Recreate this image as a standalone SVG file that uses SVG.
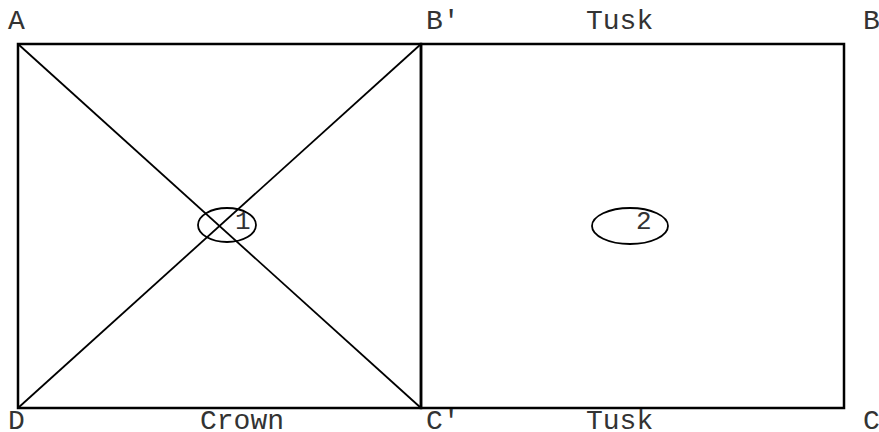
<svg xmlns="http://www.w3.org/2000/svg" width="879" height="432" viewBox="0 0 879 432">
<style>
.lbl{font-family:"Liberation Mono","Courier New",monospace;font-size:28px;fill:#333}
.num{font-family:"Liberation Mono","Courier New",monospace;font-size:26px;fill:#333}
.box{fill:none;stroke:#000;stroke-width:2.5}
.ln{fill:none;stroke:#000;stroke-width:1.8}
</style>
<rect width="879" height="432" fill="#fff"/>
<g id="connectors">
<line class="ln" x1="18" y1="44" x2="421" y2="408"/>
<line class="ln" x1="18" y1="408" x2="421" y2="44"/>
</g>
<g id="crown">
<rect class="box" x="18" y="44" width="403" height="364"/>
</g>
<g id="tusk">
<rect class="box" x="421" y="44" width="423" height="364"/>
</g>
<g id="node1">
<ellipse class="ln" cx="227" cy="225" rx="29" ry="17"/>
<text class="num" x="235" y="229">1</text>
</g>
<g id="node2">
<ellipse class="ln" cx="630" cy="226" rx="38" ry="18"/>
<text class="num" x="636" y="229">2</text>
</g>
<g id="labels">
<text class="lbl" x="8" y="29">A</text>
<text class="lbl" x="426" y="29">B′</text>
<text class="lbl" x="586" y="29">Tusk</text>
<text class="lbl" x="863" y="29">B</text>
<text class="lbl" x="8" y="429">D</text>
<text class="lbl" x="200" y="429">Crown</text>
<text class="lbl" x="426" y="429">C′</text>
<text class="lbl" x="586" y="429">Tusk</text>
<text class="lbl" x="863" y="429">C</text>
</g>
</svg>
